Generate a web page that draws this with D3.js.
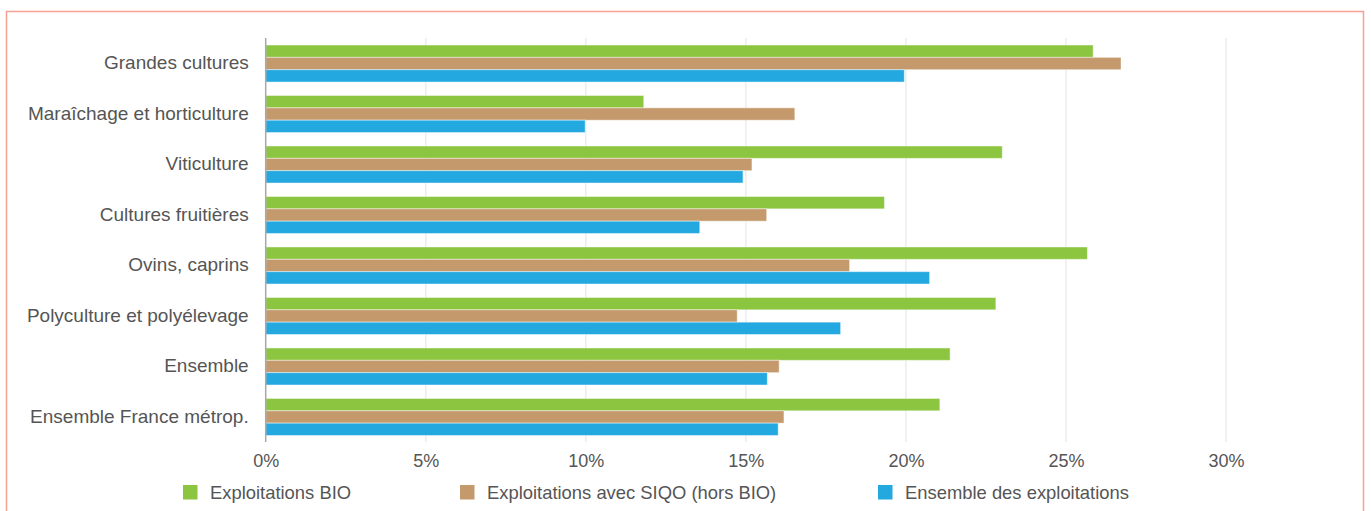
<!DOCTYPE html>
<html lang="fr">
<head>
<meta charset="utf-8">
<script src="https://cdn.jsdelivr.net/npm/d3@7"></script>
<style>
  html, body { margin: 0; padding: 0; background: #fff; }
  svg { display: block; font-family: "Liberation Sans", Arial, sans-serif; }
</style>
</head>
<body>
<svg id="chart" width="1371" height="511"></svg>
<script>
// Orientation technico-économique des exploitations
const categories = [
  "Grandes cultures",
  "Maraîchage et horticulture",
  "Viticulture",
  "Cultures fruitières",
  "Ovins, caprins",
  "Polyculture et polyélevage",
  "Ensemble",
  "Ensemble France métrop."
];

const seriesNames = [
  "Exploitations BIO",
  "Exploitations avec SIQO (hors BIO)",
  "Ensemble des exploitations"
];

// Parts en %
const bio   = [25.85, 11.81, 23.01, 19.33, 25.67, 22.81, 21.38, 21.06];
const siqo  = [26.72, 16.53, 15.19, 15.65, 18.24, 14.73, 16.04, 16.19];
const total = [19.95,  9.98, 14.91, 13.56, 20.74, 17.96, 15.67, 16.01];

const xTicks = [0, 5, 10, 15, 20, 25, 30];
const colors = ["#8cc540", "#c4996b", "#24a8e0"];

const seriesValues = [bio, siqo, total];
const rows = categories.map((c, i) => ({
  category: c,
  values: seriesValues.map((vals, s) => ({ series: s, value: vals[i] }))
}));

const svg = d3.select("#chart");

// Cadre
svg.append("rect")
  .attr("x", 6.5).attr("y", 11.5)
  .attr("width", 1357).attr("height", 520)
  .attr("fill", "none")
  .attr("stroke", "#f4a093")
  .attr("stroke-width", 1.5);

const x = d3.scaleLinear().domain([0, 30]).range([265.7, 1226]);
const y = d3.scaleBand().domain(categories).range([38, 442.5])
  .paddingInner(0.267).paddingOuter(0.139);
const ySub = d3.scaleBand().domain(d3.range(seriesNames.length))
  .range([0, y.bandwidth()]);

// Grille verticale
svg.append("g")
  .selectAll("line")
  .data(xTicks.filter(t => t > 0))
  .join("line")
  .attr("x1", d => x(d)).attr("x2", d => x(d))
  .attr("y1", 38).attr("y2", 442)
  .attr("stroke", "#ececec")
  .attr("stroke-width", 1.5);

// Barres
const groups = svg.append("g")
  .selectAll("g")
  .data(rows)
  .join("g")
  .attr("transform", d => `translate(0,${y(d.category)})`);

groups.selectAll("rect")
  .data(d => d.values)
  .join("rect")
  .attr("x", x(0))
  .attr("y", d => ySub(d.series))
  .attr("width", d => x(d.value) - x(0))
  .attr("height", ySub.bandwidth())
  .attr("fill", d => colors[d.series])
  .attr("stroke", "rgba(255,255,255,0.45)")
  .attr("stroke-width", 1);

// Axe des catégories
svg.append("line")
  .attr("x1", x(0)).attr("x2", x(0))
  .attr("y1", 38).attr("y2", 442)
  .attr("stroke", "#a8a8a8")
  .attr("stroke-width", 1.5);

const yAxis = d3.axisLeft(y).tickSize(0).tickPadding(17);
const yG = svg.append("g")
  .attr("transform", `translate(${x(0)},0)`)
  .call(yAxis);
yG.select(".domain").remove();
yG.selectAll("text")
  .attr("fill", "#555")
  .attr("dy", "0.3em")
  .style("font-size", "19px")
  .style("font-family", "'Liberation Sans', Arial, sans-serif");

// Axe des pourcentages
const xAxis = d3.axisBottom(x).tickValues(xTicks)
  .tickFormat(d => d + "%").tickSize(0).tickPadding(12);
const xG = svg.append("g")
  .attr("transform", "translate(0,442)")
  .call(xAxis);
xG.select(".domain").remove();
xG.selectAll("text")
  .attr("fill", "#555")
  .style("font-size", "18px")
  .style("font-family", "'Liberation Sans', Arial, sans-serif");

// Légende
const legendX = [183, 460, 878];
const legend = svg.append("g")
  .selectAll("g")
  .data(seriesNames)
  .join("g")
  .attr("transform", (d, i) => `translate(${legendX[i]},485)`);
legend.append("rect")
  .attr("width", 14.5).attr("height", 14.5)
  .attr("fill", (d, i) => colors[i]);
legend.append("text")
  .attr("x", 27).attr("y", 14)
  .attr("fill", "#555")
  .style("font-size", "18.4px")
  .text(d => d);
</script>
</body>
</html>
